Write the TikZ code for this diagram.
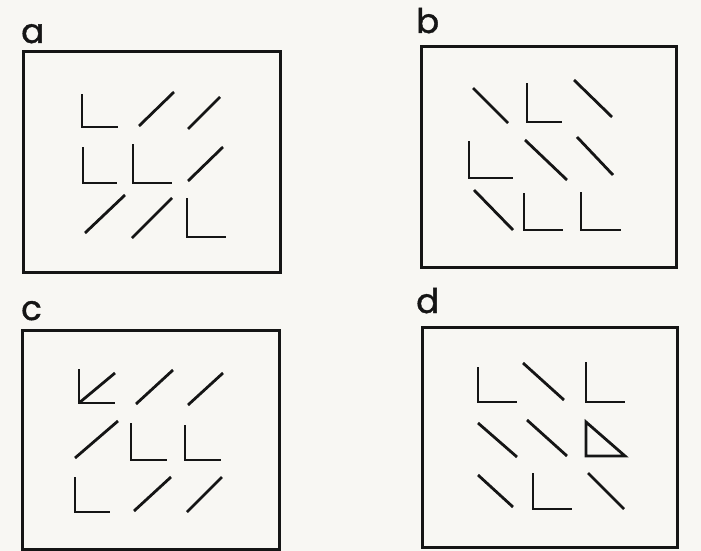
\documentclass[tikz,border=0pt]{standalone}
\usepackage{fontspec}
\newfontfamily\labfont{Poppins}[FakeBold=1.2]
\definecolor{paper}{HTML}{F8F7F3}
\definecolor{ink}{HTML}{151515}
\begin{document}
\begin{tikzpicture}[x=1pt,y=-1pt,
  frame/.style={draw=ink,line width=3pt},
  seg/.style={draw=ink,line width=2.8pt,line cap=butt,line join=miter},
  lab/.style={anchor=base west,inner sep=0pt,font=\labfont\fontsize{34}{34}\selectfont,text=ink}]
\fill[paper] (0,0) rectangle (701,551);
\useasboundingbox (0,0) rectangle (701,551);
% panel a
\node[lab] (la) at (21,43) {a};
\draw[frame] (23,52) rectangle (280,272);
\draw[seg] (82,94) -- (82,127) -- (118,127);
\draw[seg] (139,126) -- (174,92);
\draw[seg] (188,129) -- (220,97);
\draw[seg] (83,147) -- (83,183) -- (117,183);
\draw[seg] (133,144) -- (133,183) -- (172,183);
\draw[seg] (188,181) -- (223,147);
\draw[seg] (85,233) -- (125,195);
\draw[seg] (132,238) -- (172,198);
\draw[seg] (187,198) -- (187,237) -- (226,237);
% panel b
\node[lab] (lb) at (416,33) {b};
\draw[frame] (421,47) rectangle (676,267);
\draw[seg] (473,88) -- (508,123);
\draw[seg] (527,83) -- (527,122) -- (562,122);
\draw[seg] (574,80) -- (612,117);
\draw[seg] (469,141) -- (469,178) -- (513,178);
\draw[seg] (525,140) -- (567,180);
\draw[seg] (577,137) -- (613,175);
\draw[seg] (474,190) -- (513,230);
\draw[seg] (524,193) -- (524,230) -- (563,230);
\draw[seg] (581,192) -- (581,230) -- (621,230);
% panel c
\node[lab] (lc) at (21,320) {c};
\draw[frame] (22,330) rectangle (279,549);
\draw[seg] (79,369) -- (79,403) -- (115,403);
\draw[seg] (79,403) -- (115,373);
\draw[seg] (136,404) -- (173,370);
\draw[seg] (188,405) -- (223,373);
\draw[seg] (75,458) -- (118,421);
\draw[seg] (131,423) -- (131,460) -- (167,460);
\draw[seg] (185,425) -- (185,460) -- (221,460);
\draw[seg] (75,477) -- (75,512) -- (110,512);
\draw[seg] (134,511) -- (171,477);
\draw[seg] (187,512) -- (222,477);
% panel d
\node[lab] (ld) at (416,313) {d};
\draw[frame] (422,327) rectangle (677,547);
\draw[seg] (478,367) -- (478,402) -- (517,402);
\draw[seg] (523,363) -- (564,400);
\draw[seg] (586,362) -- (586,402) -- (625,402);
\draw[seg] (478,423) -- (517,457);
\draw[seg] (527,420) -- (567,456);
\draw[seg] (586,422) -- (586,456) -- (625,456) -- cycle;
\draw[seg] (478,475) -- (513,507);
\draw[seg] (533,473) -- (533,509) -- (572,509);
\draw[seg] (588,473) -- (624,509);
\end{tikzpicture}
\end{document}
